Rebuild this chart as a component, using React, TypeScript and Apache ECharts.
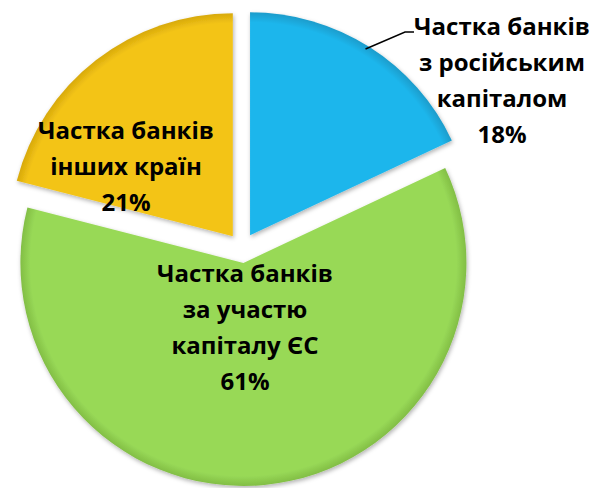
import React, { useEffect, useRef } from "react";
import * as echarts from "echarts";

const categories = [
  "Частка банків\nз російським\nкапіталом",
  "Частка банків\nза участю\nкапіталу ЄС",
  "Частка банків\nінших країн",
];
const shares = [18, 61, 21];
const colors = ["#1FB6EC", "#98D957", "#F3C416"];
const edgeColors = ["#1A9CCB", "#82BE45", "#D7A90C"];

// label anchor points (text block centres)
const labelPos: [number, number][] = [
  [502, 79],
  [245, 326],
  [126, 165],
];

const CX = 242;
const CY = 248;
const R = 223;
const OFFSET = 15;

export default function App() {
  const ref = useRef<HTMLDivElement>(null);
  useEffect(() => {
    document.body.style.margin = "0";
    const chart = echarts.init(ref.current!, null, { renderer: "svg" });

    const total = shares.reduce((a, b) => a + b, 0);
    // mid angle of the first slice (clockwise from 12 o'clock)
    const midDeg = ((shares[0] / total) * 360) / 2;
    const rad = (midDeg * Math.PI) / 180;
    const ax = CX + (R + OFFSET) * Math.sin(rad);
    const ay = CY - (R + OFFSET) * Math.cos(rad);
    const [lx, ly] = labelPos[0];

    const font = {
      fontFamily: "Open Sans",
      fontWeight: "bold" as const,
      fontSize: 24,
      lineHeight: 36,
      fill: "#000",
      align: "center" as const,
      verticalAlign: "middle" as const,
    };

    chart.setOption({
      animation: false,
      backgroundColor: "#ffffff",
      series: [
        {
          type: "pie",
          center: [CX, CY],
          radius: R,
          startAngle: 90,
          clockwise: true,
          selectedMode: "multiple",
          selectedOffset: OFFSET,
          emphasis: { disabled: true },
          label: { show: false },
          labelLine: { show: false },
          data: categories.map((name, i) => ({
            name,
            value: shares[i],
            selected: true,
            itemStyle: {
              color: {
                type: "radial",
                x: CX,
                y: CY,
                r: R,
                global: true,
                colorStops: [
                  { offset: 0, color: colors[i] },
                  { offset: 0.955, color: colors[i] },
                  { offset: 1, color: edgeColors[i] },
                ],
              },
              shadowBlur: 4,
              shadowOffsetX: 1,
              shadowOffsetY: 2,
              shadowColor: "rgba(0,0,0,0.3)",
            },
          })),
        },
      ],
      graphic: [
        ...categories.map((name, i) => ({
          type: "text",
          x: labelPos[i][0],
          y: labelPos[i][1],
          z: 100,
          style: { ...font, text: `${name}\n${shares[i]}%` },
        })),
        {
          type: "polyline",
          z: 100,
          shape: {
            points: [
              [ax - 4, ay + 2],
              [lx - 97, ly - 47],
              [lx - 88, ly - 47],
            ],
          },
          style: { stroke: "#000", lineWidth: 1.5, fill: "none" },
        },
      ],
    });
    return () => chart.dispose();
  }, []);
  return (
    <div
      ref={ref}
      style={{ position: "fixed", left: 0, top: 0, width: 593, height: 488 }}
    />
  );
}
